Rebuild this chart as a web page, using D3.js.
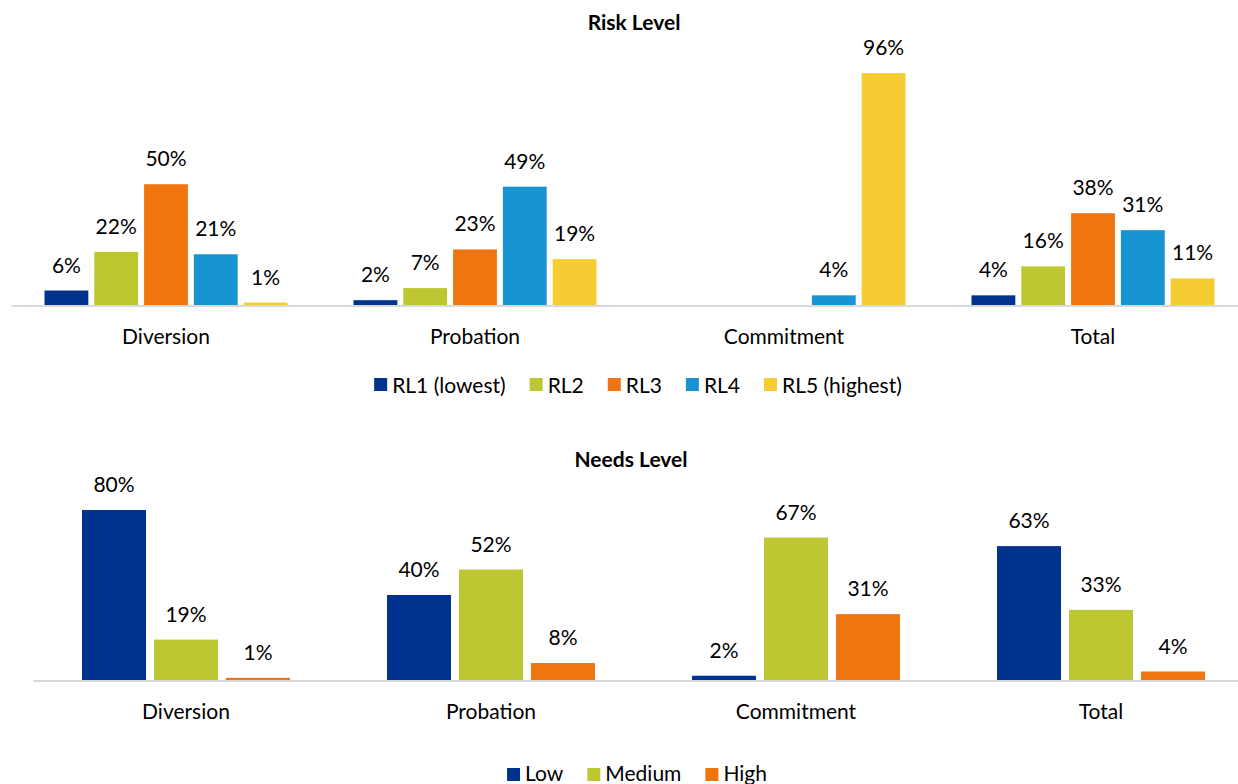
<!DOCTYPE html>
<html>
<head>
<meta charset="utf-8">
<script src="https://cdn.jsdelivr.net/npm/d3@7"></script>
<style>
  html, body { margin: 0; padding: 0; background: #ffffff; }
  svg { display: block; }
  text { font-family: Lato, "Open Sans", sans-serif; fill: #000; }
</style>
</head>
<body>
<svg id="chart" width="1238" height="784"></svg>
<script>
// ---- Data ----
const riskCategories = ["Diversion", "Probation", "Commitment", "Total"];
const riskSeries = ["RL1 (lowest)", "RL2", "RL3", "RL4", "RL5 (highest)"];
const riskRL1 = [6, 2, 0, 4];
const riskRL2 = [22, 7, 0, 16];
const riskRL3 = [50, 23, 0, 38];
const riskRL4 = [21, 49, 4, 31];
const riskRL5 = [1, 19, 96, 11];
const riskColors = ["#00338D", "#BDC731", "#F0740F", "#1994D2", "#F5CD32"];

const needsCategories = ["Diversion", "Probation", "Commitment", "Total"];
const needsSeries = ["Low", "Medium", "High"];
const needsLow = [80, 40, 2, 63];
const needsMedium = [19, 52, 67, 33];
const needsHigh = [1, 8, 31, 4];
const needsColors = ["#00338D", "#BDC731", "#F0740F"];

const svg = d3.select("#chart");
const FONT = 21;

function drawPanel(cfg) {
  const g = svg.append("g");
  const x0 = d3.scaleBand().domain(cfg.categories).range(cfg.xRange).padding(0);
  const bw = x0.bandwidth();
  const half = bw * cfg.groupFrac / 2;
  const x1 = d3.scaleBand().domain(cfg.series).range([bw / 2 - half, bw / 2 + half])
    .paddingInner(cfg.innerPad).paddingOuter(0);
  const y = d3.scaleLinear().domain([0, 100]).range(cfg.yRange);

  // title
  g.append("text").attr("x", cfg.titleX).attr("y", cfg.titleY)
    .attr("text-anchor", "middle").attr("font-weight", "bold")
    .attr("font-size", FONT).text(cfg.title);

  const rows = cfg.categories.map((c, i) => ({
    cat: c,
    vals: cfg.series.map((s, j) => ({ key: s, v: cfg.values[j][i], color: cfg.colors[j] }))
  }));

  const grp = g.selectAll("g.grp").data(rows).join("g")
    .attr("transform", d => `translate(${x0(d.cat)},0)`);

  grp.selectAll("rect").data(d => d.vals.filter(v => v.v > 0)).join("rect")
    .attr("x", d => x1(d.key))
    .attr("width", x1.bandwidth())
    .attr("y", d => y(d.v))
    .attr("height", d => y(0) - y(d.v))
    .attr("fill", d => d.color);

  grp.selectAll("text.val").data(d => d.vals.filter(v => v.v > 0)).join("text")
    .attr("class", "val")
    .attr("x", d => x1(d.key) + x1.bandwidth() / 2)
    .attr("y", d => y(d.v) - 18)
    .attr("text-anchor", "middle").attr("font-size", FONT)
    .text(d => d.v + "%");

  // axis line
  g.append("line").attr("x1", cfg.xRange[0]).attr("x2", 1238)
    .attr("y1", y(0) + 1).attr("y2", y(0) + 1)
    .attr("stroke", "#D9D9D9").attr("stroke-width", 2);

  // category labels
  g.selectAll("text.cat").data(cfg.categories).join("text")
    .attr("class", "cat")
    .attr("x", d => x0(d) + bw / 2)
    .attr("y", cfg.catY)
    .attr("text-anchor", "middle").attr("font-size", FONT)
    .text(d => d);

  // legend
  const lg = g.append("g");
  const items = lg.selectAll("g").data(cfg.series.map((s, j) => ({ s, c: cfg.colors[j] }))).join("g");
  items.append("rect").attr("width", 13).attr("height", 13)
    .attr("y", cfg.legendSquareY).attr("fill", d => d.c);
  items.append("text").attr("x", 18).attr("y", cfg.legendY)
    .attr("font-size", FONT).text(d => d.s);
  let xpos = 0;
  items.each(function () {
    d3.select(this).attr("transform", `translate(${xpos},0)`);
    const w = 18 + this.querySelector("text").getComputedTextLength();
    xpos += w + 24;
  });
  const total = xpos - 24;
  lg.attr("transform", `translate(${cfg.legendCenter - total / 2},0)`);
}

drawPanel({
  title: "Risk Level", titleX: 634, titleY: 30,
  categories: riskCategories, series: riskSeries,
  values: [riskRL1, riskRL2, riskRL3, riskRL4, riskRL5], colors: riskColors,
  xRange: [11.5, 1247.5], groupFrac: 243 / 309, innerPad: 0.12,
  yRange: [305, 63.5], catY: 344,
  legendY: 393, legendSquareY: 378, legendCenter: 638
});

drawPanel({
  title: "Needs Level", titleX: 631, titleY: 467,
  categories: needsCategories, series: needsSeries,
  values: [needsLow, needsMedium, needsHigh], colors: needsColors,
  xRange: [33.5, 1253.5], groupFrac: 208 / 305, innerPad: 0.111,
  yRange: [680, 467.5], catY: 719,
  legendY: 781, legendSquareY: 768, legendCenter: 637
});
</script>
</body>
</html>
